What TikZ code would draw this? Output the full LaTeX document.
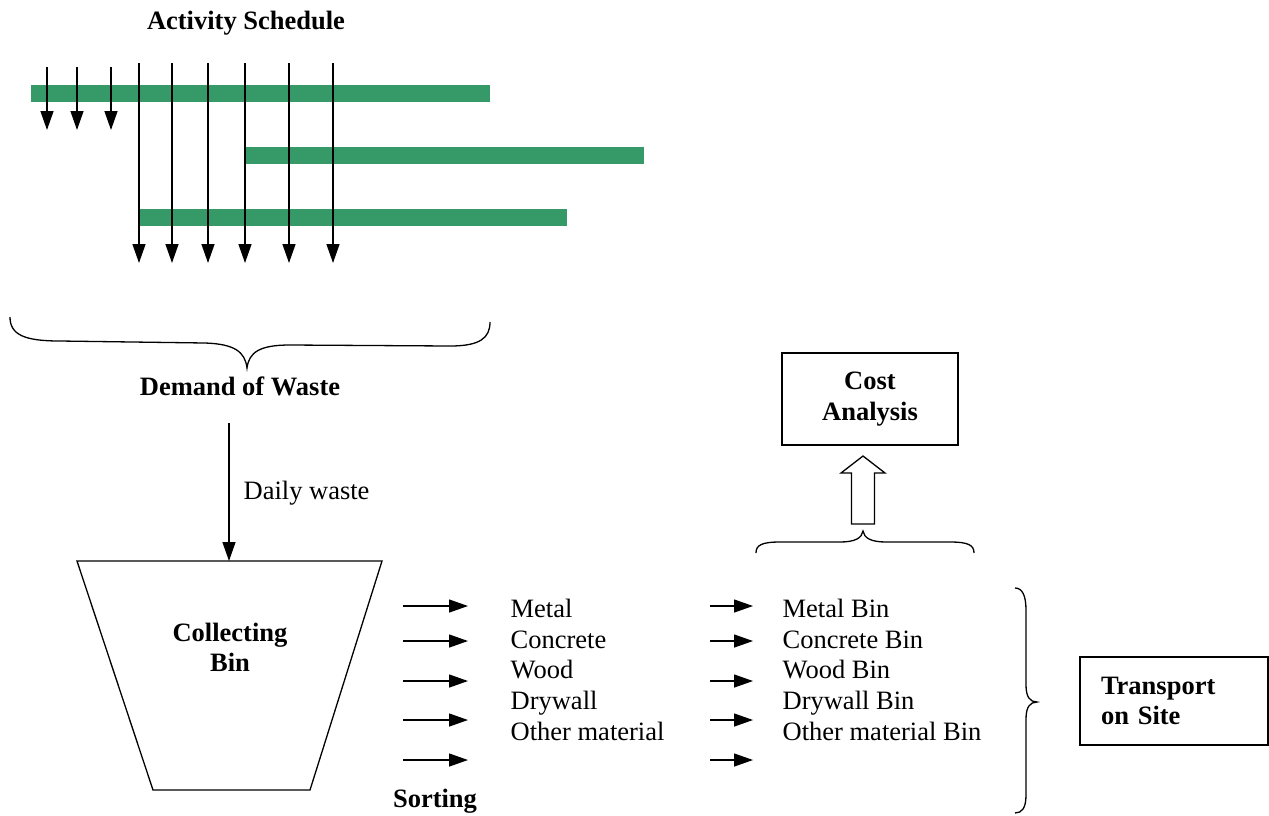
\documentclass[tikz,border=0pt]{standalone}
\usepackage{fontspec}
\setmainfont{Liberation Serif}
\usetikzlibrary{arrows.meta}
\definecolor{bargreen}{RGB}{53,154,104}
\begin{document}
\begin{tikzpicture}[x=1pt,y=-1pt, line width=1.3pt,
  txt/.style={font=\fontsize{26.5}{30.7}\selectfont, inner sep=0pt},
  bold/.style={font=\fontsize{26.5}{30.7}\selectfont\bfseries, inner sep=0pt},
  arr/.style={-{Triangle[length=19pt,width=13pt]}},
  bar/.style={fill=bargreen}]
\useasboundingbox (0,0) rectangle (1269,815);

% title
\node[bold, anchor=base] (title) at (246,29) {Activity Schedule};

% activity bars
\fill[bar] (31,85) rectangle (490,102);
\fill[bar] (245,147) rectangle (644,164);
\fill[bar] (139,209) rectangle (567,226);

% demand arrows
\foreach \x in {47,77,111} \draw[arr] (\x,67) -- (\x,130);
\foreach \x in {139,172,208,245,289,333} \draw[arr] (\x,63) -- (\x,263);

% brace under schedule
\draw (10,317) .. controls (10,335) and (25,341) .. (60,341) -- (205,343)
  .. controls (235,344) and (245,352) .. (247,368)
  .. controls (249,352) and (260,345) .. (290,345) -- (450,346)
  .. controls (480,346) and (490,338) .. (490,322);

\node[bold, anchor=base] (demand) at (240,395) {Demand of Waste};

% collecting bin
\coordinate (dw) at (229,423);
\coordinate (bintop) at (229,561);
\draw (77,561) -- (382,561) -- (310,790) -- (153,790) -- cycle;
\draw[arr] (dw) -- (bintop);
\node[txt, anchor=base west] (daily) at (243,499) {Daily waste};
\node[bold, anchor=base] (coll) at (230,641) {Collecting};
\node[bold, anchor=base] (bin) at (230,671) {Bin};

% sorting arrows and lists
\foreach \y in {606,641,681,720,760} {
  \draw[arr] (403,\y) -- (468,\y);
  \draw[arr] (710,\y) -- (753,\y);
}
\foreach \t/\y [count=\i] in {Metal/617.5, Concrete/648.5, Wood/678.5, Drywall/709.5, Other material/740.5} {
  \node[txt, anchor=base west] (m\i) at (510,\y) {\t};
  \node[txt, anchor=base west] (b\i) at (782,\y) {\t{} Bin};
}
\node[bold, anchor=base] (sorting) at (435,807) {Sorting};

% brace above bins
\draw (756,553) .. controls (756,545) and (762,542) .. (780,542) -- (840,542)
  .. controls (855,542) and (862,538) .. (863,531)
  .. controls (864,538) and (871,542) .. (886,542) -- (950,542)
  .. controls (968,542) and (974,545) .. (974,553);

% hollow block arrow
\draw (851.5,524) -- (851.5,473) -- (841,473) -- (863,456) -- (885,473) -- (874.5,473) -- (874.5,524) -- cycle;

% cost analysis box
\node[draw, bold, align=center, minimum width=176pt, minimum height=92pt] (cost) at (870,399) {Cost\\Analysis};

% right brace
\draw (1015,588) .. controls (1022,588) and (1026,595) .. (1026,610) -- (1026,685)
  .. controls (1026,697) and (1030,702) .. (1037,702)
  .. controls (1030,702) and (1026,707) .. (1026,719) -- (1026,795)
  .. controls (1026,808) and (1022,813) .. (1015,813);

% transport box
\node[draw, bold, align=left, text width=146pt, minimum height=88pt, inner xsep=21pt] (transport) at (1174,701) {Transport\\on Site};
\end{tikzpicture}
\end{document}
